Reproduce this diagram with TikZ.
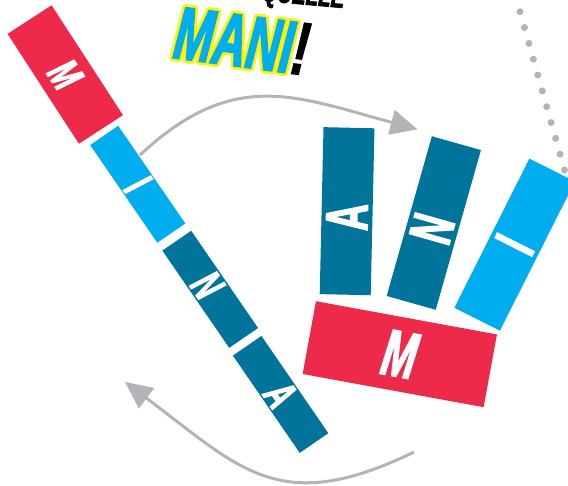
\documentclass[tikz,border=0pt]{standalone}
\usepackage{fontspec}
\newfontfamily\cnd[FakeStretch=0.62, BoldFeatures={FakeBold=2}, BoldItalicFeatures={FakeBold=2}]{Liberation Sans}
\usetikzlibrary{arrows.meta}
\definecolor{cred}{RGB}{237,42,74}
\definecolor{clb}{RGB}{0,174,239}
\definecolor{cdt}{RGB}{0,116,154}
\definecolor{cgr}{RGB}{178,180,184}
\definecolor{cyl}{RGB}{255,242,0}
\tikzset{
  blk/.style={inner sep=0pt, outer sep=0pt, text=white},
  sfont/.style={font=\cnd\bfseries\itshape\fontsize{45}{45}\selectfont},
  hfont/.style={font=\cnd\bfseries\fontsize{60}{60}\selectfont},
  mfont/.style={font=\cnd\bfseries\itshape\fontsize{66}{66}\selectfont},
  ttl/.style={font=\cnd\bfseries\itshape\fontsize{75}{75}\selectfont, inner sep=0pt, rotate=-7.5},
  arr/.style={draw=cgr, line width=3pt, -{Triangle[length=27pt,width=25pt]}},
}
\begin{document}
\begin{tikzpicture}[x=1pt,y=-1pt]
\useasboundingbox (0,0) rectangle (568,485);
\clip (0,0) rectangle (568,485);
% dotted line
\foreach \k in {0,...,11} \fill[cgr] (520+4.45*\k, 11.7+15.83*\k) circle[radius=3.5pt];
% arrows
\coordinate (a0) at (140,155);
\coordinate (a1) at (233.8,67.6);
\coordinate (a2) at (295.3,96.4);
\coordinate (a3) at (417.5,129.3);
\draw[arr] (a0) .. controls (a1) and (a2) .. (a3);
\coordinate (b0) at (414,452);
\coordinate (b1) at (279.1,517.7);
\coordinate (b2) at (239.9,468.2);
\coordinate (b3) at (125,382);
\draw[arr] (b0) .. controls (b1) and (b2) .. (b3);
% strip blocks
\node[blk, sfont, fill=cred, rotate=-57, minimum width=131pt, minimum height=52.5pt] (sM) at (65.25,74.5) {M};
\node[blk, sfont, fill=clb, rotate=-55.5, minimum width=118.5pt, minimum height=34pt] (sI) at (137.75,184.25) {I};
\node[blk, sfont, fill=cdt, rotate=-55.5, minimum width=118pt, minimum height=35pt] (sN) at (210.2,289.3) {\hspace*{-10pt}N};
\node[blk, sfont, fill=cdt, rotate=-55.5, minimum width=118pt, minimum height=34.7pt] (sA) at (280.6,394.4) {A};
% hand blocks
\node[blk, hfont, fill=cdt, rotate=88.7, minimum width=167pt, minimum height=51pt] (hA) at (347.1,211.2) {\hspace*{-12pt}A};
\node[blk, hfont, fill=cdt, rotate=74.2, minimum width=166pt, minimum height=51pt] (hN) at (433.8,223) {\hspace*{-12pt}N};
\node[blk, hfont, fill=clb, rotate=63.3, minimum width=167pt, minimum height=51pt] (hI) at (514.65,244.65) {I};
\node[blk, mfont, fill=cred, rotate=-10.4, minimum width=184pt, minimum height=74pt] (hM) at (399.8,354.2) {M};
% title
\node[font=\cnd\bfseries\itshape\fontsize{33}{33}\selectfont, inner sep=0pt, anchor=base east, rotate=-5] (qt) at (344,8) {QUELLE};
\foreach \a [count=\i] in {0,22.5,...,337.5}
  \node[ttl, text=cyl, shift={(\a:2.6pt)}] (yl\i) at (242,41) {MANI\phantom{!}};
\node[ttl, text=clb] (mani) at (242,41) {MANI{\color{black}!}};
\end{tikzpicture}
\end{document}
